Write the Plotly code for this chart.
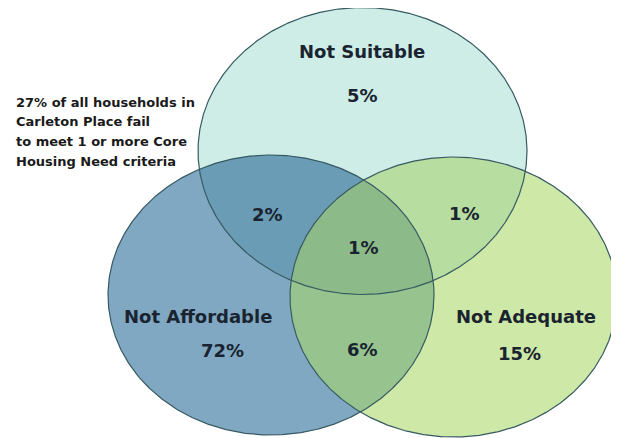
import numpy as np
import plotly.graph_objects as go

# ---- data ----
set_names = ["Not Suitable", "Not Affordable", "Not Adequate"]
only_pct = [5, 72, 15]
pair_names = ["Suitable&Affordable", "Suitable&Adequate", "Affordable&Adequate"]
pair_pct = [2, 1, 6]
all_three_pct = 1
note_lines = [
    "27% of all households in",
    "Carleton Place fail",
    "to meet 1 or more Core",
    "Housing Need criteria",
]

# ---- layout geometry (pixel space of the page) ----
W, H = 619, 438
OFF = 8  # page body margin compensation
ellipses = [  # cx, cy, rx, ry
    (362.5, 151, 164.5, 143.5),
    (271, 295, 163, 140),
    (453.5, 297, 163.5, 140),
]
set_fill = ["#cdede6", "#80a8c2", "#cee8a7"]
pair_fill = {(0, 1): "#6a9cb5", (0, 2): "#b8dda0", (1, 2): "#96c38e"}
all_fill = "#8cba88"
outline = "#375a62"

def ell_pts(e, n=720):
    cx, cy, rx, ry = e
    t = np.linspace(0, 2 * np.pi, n, endpoint=False)
    return cx + rx * np.cos(t), cy + ry * np.sin(t)

def inside(e, x, y, tol=1e-6):
    cx, cy, rx, ry = e
    return ((x - cx) / rx) ** 2 + ((y - cy) / ry) ** 2 <= 1 + tol

def intersection(idx):
    xs, ys = [], []
    for i in idx:
        x, y = ell_pts(ellipses[i], 2000)
        m = np.ones_like(x, dtype=bool)
        for j in idx:
            if j != i:
                m &= inside(ellipses[j], x, y, 1e-3)
        xs.append(x[m]); ys.append(y[m])
    x = np.concatenate(xs); y = np.concatenate(ys)
    mx, my = x.mean(), y.mean()
    order = np.argsort(np.arctan2(y - my, x - mx))
    x, y = x[order], y[order]
    return np.append(x, x[0]), np.append(y, y[0])

fig = go.Figure()

def add_fill(x, y, color):
    fig.add_trace(go.Scatter(x=x, y=y, mode="lines", fill="toself",
                             fillcolor=color, line=dict(width=0, color=color),
                             hoverinfo="skip", showlegend=False))

for i, e in enumerate(ellipses):
    x, y = ell_pts(e)
    add_fill(np.append(x, x[0]), np.append(y, y[0]), set_fill[i])
for (a, b), c in pair_fill.items():
    x, y = intersection([a, b])
    add_fill(x, y, c)
x, y = intersection([0, 1, 2])
add_fill(x, y, all_fill)

for e in ellipses:
    x, y = ell_pts(e)
    fig.add_trace(go.Scatter(x=np.append(x, x[0]), y=np.append(y, y[0]), mode="lines",
                             line=dict(width=1.2, color=outline),
                             hoverinfo="skip", showlegend=False))

txt = "#1a2430"
font = dict(family="DejaVu Sans", size=18, color=txt)

def label(x, y, s, f=font, xanchor="center"):
    fig.add_annotation(x=x, y=y, text="<b>%s</b>" % s, showarrow=False,
                       xref="x", yref="y", font=f, xanchor=xanchor, yanchor="middle")

# set names and only-percent labels
name_pos = [(361.5, 51), (197.5, 316), (526, 316)]
pct_pos = [(362, 95), (222.5, 350), (519, 353)]
for i in range(3):
    label(*name_pos[i], set_names[i])
    label(*pct_pos[i], "%d%%" % only_pct[i])

pair_pos = [(267, 214), (464, 213), (362, 349)]
for i in range(3):
    label(*pair_pos[i], "%d%%" % pair_pct[i])
label(363, 247, "%d%%" % all_three_pct)

note_font = dict(family="DejaVu Sans", size=13, color="#1a1a1a")
for k, line in enumerate(note_lines):
    label(14, 102 + k * 19.7, line, note_font, xanchor="left")

fig.update_layout(
    width=W, height=H, margin=dict(l=0, r=0, t=0, b=0),
    paper_bgcolor="white", plot_bgcolor="white", showlegend=False,
    xaxis=dict(range=[OFF, W + OFF], visible=False, fixedrange=True),
    yaxis=dict(range=[H + OFF, OFF], visible=False, fixedrange=True),
)
fig.write_html("out.html")
